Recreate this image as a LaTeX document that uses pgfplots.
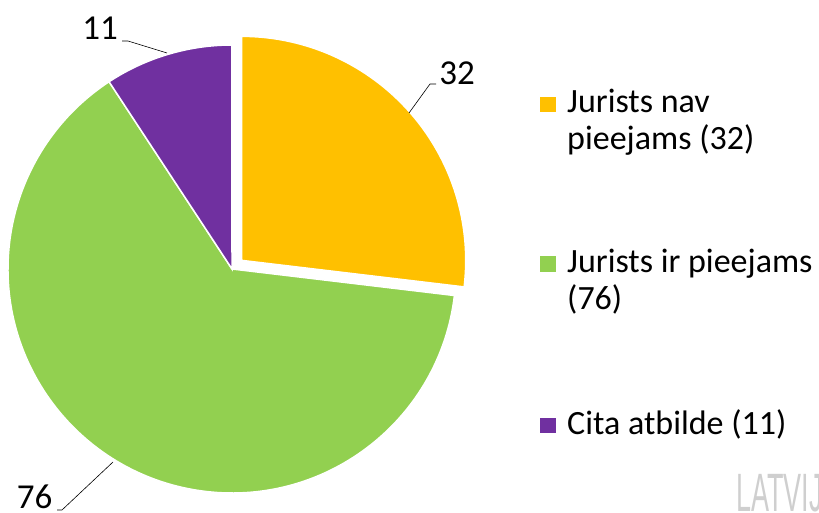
\documentclass[border=0pt]{standalone}
\usepackage{fontspec}
\setmainfont{Carlito}
\newfontfamily\wmfont{Liberation Sans}
\usepackage{pgfplots}
\pgfplotsset{compat=1.18}
\definecolor{cOr}{HTML}{FFC000}
\definecolor{cGr}{HTML}{92D050}
\definecolor{cPu}{HTML}{7030A0}
\definecolor{cWm}{HTML}{CFCFCF}
% values
\def\vA{32}\def\vB{76}\def\vC{11}
\begin{document}
\begin{tikzpicture}
\begin{axis}[scale only axis, width=819pt, height=513pt,
  xmin=0, xmax=819, ymin=0, ymax=513, hide axis, clip=false]
\path (rel axis cs:0,0) rectangle (rel axis cs:1,1);
\pgfmathsetmacro{\tot}{\vA+\vB+\vC}
\pgfmathsetmacro{\aA}{90-\vA/\tot*360}
\pgfmathsetmacro{\aB}{\aA-\vB/\tot*360}
\pgfmathsetmacro{\aC}{\aB-\vC/\tot*360}
\pgfmathsetmacro{\mA}{(90+\aA)/2}
\pgfmathsetmacro{\ox}{232+13*cos(\mA)}
\pgfmathsetmacro{\oy}{244+13*sin(\mA)}
% slices
\filldraw[fill=cGr, draw=white, line width=1.5pt] (axis cs:232,244) -- ++(\aA:224pt) arc[start angle=\aA, end angle=\aB, radius=224pt] -- cycle;
\filldraw[fill=cPu, draw=white, line width=1.5pt] (axis cs:232,244) -- ++(\aB:224pt) arc[start angle=\aB, end angle=\aC, radius=224pt] -- cycle;
\filldraw[fill=cOr, draw=white, line width=1.5pt] (axis cs:\ox,\oy) -- ++(90:224pt) arc[start angle=90, end angle=\aA, radius=224pt] -- cycle;
% leader lines
\draw[black, line width=0.6pt] (axis cs:436,429) -- (axis cs:430,429) -- (axis cs:409,400);
\draw[black, line width=0.6pt] (axis cs:122,472) -- (axis cs:128,472) -- (axis cs:167,460);
\draw[black, line width=0.6pt] (axis cs:57,3) -- (axis cs:62,3) -- (axis cs:113,51);
% data labels
\node[font=\fontsize{35}{40}\selectfont, inner sep=0pt] at (axis cs:457,440) {\vA};
\node[font=\fontsize{35}{40}\selectfont, inner sep=0pt] at (axis cs:100,484.5) {\vC};
\node[font=\fontsize{35}{40}\selectfont, inner sep=0pt] at (axis cs:34.5,16.5) {\vB};
% legend
\fill[cOr] (axis cs:540,401) rectangle (axis cs:556,416);
\fill[cGr] (axis cs:540,241) rectangle (axis cs:556,257);
\fill[cPu] (axis cs:540,80) rectangle (axis cs:556,95);
\begin{scope}[every node/.style={anchor=base west, inner sep=0pt, font=\fontsize{34}{38}\selectfont}]
\node at (axis cs:567,400) {Jurists nav};
\node at (axis cs:567,363) {pieejams (32)};
\node at (axis cs:567,240) {Jurists ir pieejams};
\node at (axis cs:567,203) {(76)};
\node at (axis cs:567,78) {Cita atbilde (11)};
\end{scope}
\node[anchor=base west, inner sep=0pt, text=cWm, font=\wmfont\fontsize{54}{54}\selectfont] at (axis cs:736,1) {\scalebox{0.5}[1]{LATVIJ}};
\end{axis}
\pgfresetboundingbox
\path (0,0) rectangle (819pt,513pt);
\end{tikzpicture}
\end{document}
